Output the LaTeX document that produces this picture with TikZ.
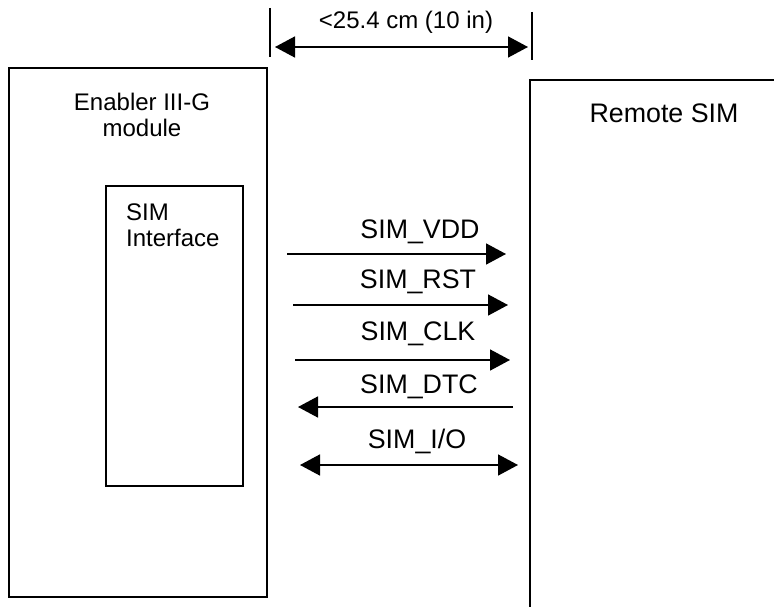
\documentclass[tikz,border=0pt]{standalone}
\usepackage{fontspec}
\setmainfont{Liberation Sans}
\usetikzlibrary{arrows.meta}
\tikzset{
  box/.style={draw, line width=2pt, inner sep=0pt},
  sig/.style={line width=1.6pt, -{Triangle[length=20pt,width=21pt]}},
  sigboth/.style={line width=1.6pt, {Triangle[length=20pt,width=21pt]}-{Triangle[length=20pt,width=21pt]}},
  lbl/.style={font=\fontsize{26.8}{30}\selectfont, inner sep=0pt, anchor=center},
  slbl/.style={font=\fontsize{24}{28}\selectfont, inner sep=0pt},
}
\begin{document}
\begin{tikzpicture}[x=1pt,y=-1pt]
\useasboundingbox (0,0) rectangle (774,607);
% left module box
\node[box, minimum width=258pt, minimum height=529pt, anchor=north west] (mod) at (8,67) {};
\node[slbl, align=center] (modlbl) at (142,115) {Enabler III-G\\[-2pt]module};
% SIM interface box
\node[box, minimum width=137pt, minimum height=300pt, anchor=north west] (simif) at (105,185) {};
\node[slbl, align=left, anchor=west] (simiflbl) at (126,225) {SIM\\[-2pt]Interface};
% remote SIM (open box)
\coordinate (rtl) at (530,80);
\coordinate (rtr) at (774,80);
\coordinate (rbl) at (530,607);
\draw[line width=2pt] (rtr) -- (rtl) -- (rbl);
\node[lbl] (remote) at (664,113) {Remote SIM};
% dimension
\coordinate (t1a) at (270,8); \coordinate (t1b) at (270,57);
\coordinate (t2a) at (532,12); \coordinate (t2b) at (532,60);
\draw[line width=1.6pt] (t1a) -- (t1b);
\draw[line width=1.6pt] (t2a) -- (t2b);
\coordinate (d1) at (275,47); \coordinate (d2) at (528,47);
\draw[sigboth] (d1) -- (d2);
\node[slbl] (dim) at (406,22) {<25.4 cm (10 in)};
% signals
\coordinate (v1) at (287,254); \coordinate (v2) at (506,254);
\coordinate (r1) at (293,305); \coordinate (r2) at (508,305);
\coordinate (c1) at (295,360); \coordinate (c2) at (510,360);
\coordinate (dt1) at (513,407); \coordinate (dt2) at (298,407);
\coordinate (io1) at (300,465); \coordinate (io2) at (518,465);
\draw[sig] (v1) -- (v2);
\draw[sig] (r1) -- (r2);
\draw[sig] (c1) -- (c2);
\draw[sig] (dt1) -- (dt2);
\draw[sigboth] (io1) -- (io2);
\node[lbl] (lvdd) at (420,232) {SIM\_VDD};
\node[lbl] (lrst) at (418,282) {SIM\_RST};
\node[lbl] (lclk) at (418,334) {SIM\_CLK};
\node[lbl] (ldtc) at (419,387) {SIM\_DTC};
\node[lbl] (lio) at (417,441) {SIM\_I/O};
\end{tikzpicture}
\end{document}
